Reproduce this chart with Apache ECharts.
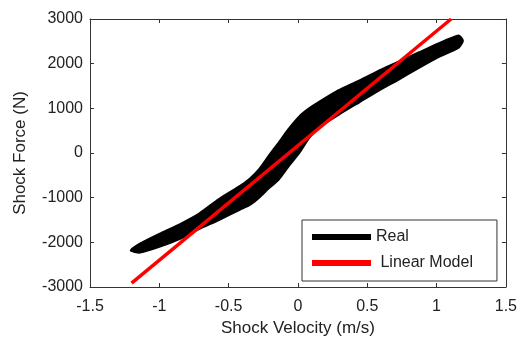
<!DOCTYPE html>
<html><head><meta charset="utf-8">
<script src="https://cdn.jsdelivr.net/npm/echarts@6/dist/echarts.min.js"></script>
<style>html,body{margin:0;padding:0;background:#fff}#c{width:520px;height:342px}</style>
</head><body><div id="c"></div>
<script>
// Real (measured) shock force band: upper and lower envelopes at each velocity
const velocity   = [-1.14, -1.0, -0.85, -0.71, -0.57, -0.42, -0.35, -0.28, -0.21, -0.14, -0.07, 0.01, 0.08, 0.15, 0.29, 0.44, 0.58, 0.73, 0.87, 1.01, 1.16];
const forceUpper = [-2030, -1810, -1590, -1350, -1030, -740, -580, -360, -60, 230, 530, 820, 1000, 1140, 1400, 1620, 1840, 2050, 2250, 2450, 2630];
const forceLower = [-2230, -2100, -1920, -1700, -1500, -1270, -1170, -1000, -790, -600, -310, 0, 330, 570, 850, 1130, 1390, 1650, 1900, 2140, 2360];
const tipLeft  = [-1.206, -2184];
const tipRight = [1.19, 2515];
// Linear model
const linearVelocity = [-1.2, 1.105];
const linearForce    = [-2914, 3000];
const seriesNames = ['Real', 'Linear Model'];

const FONT = 'Liberation Sans, Arial, sans-serif';
const axisColor = '#333';
const textColor = '#222';

const chart = echarts.init(document.getElementById('c'), null, {renderer: 'canvas'});

function xAx(pos, showLabel) {
  return {
    type: 'value', position: pos, min: -1.5, max: 1.5, interval: 0.5,
    axisLine: {onZero: false, lineStyle: {color: axisColor, width: 1}},
    axisTick: {inside: true, length: 4, lineStyle: {color: axisColor}},
    splitLine: {show: false},
    axisLabel: {show: showLabel, fontSize: 16, color: textColor, margin: 12, fontFamily: FONT},
    name: showLabel ? 'Shock Velocity (m/s)' : '',
    nameLocation: 'middle', nameGap: 33,
    nameTextStyle: {fontSize: 17, color: textColor, fontFamily: FONT}
  };
}
function yAx(pos, showLabel) {
  return {
    type: 'value', position: pos, min: -3000, max: 3000, interval: 1000,
    axisLine: {onZero: false, lineStyle: {color: axisColor, width: 1}},
    axisTick: {inside: true, length: 4, lineStyle: {color: axisColor}},
    splitLine: {show: false},
    axisLabel: {show: showLabel, fontSize: 16, color: textColor, margin: 7, fontFamily: FONT,
      formatter: v => String(v)},
    name: showLabel ? 'Shock Force (N)' : '',
    nameLocation: 'middle', nameGap: 61,
    nameTextStyle: {fontSize: 17, color: textColor, fontFamily: FONT}
  };
}

chart.setOption({
  animation: false,
  backgroundColor: '#fff',
  grid: {left: 90, right: 12, top: 19, bottom: 51},
  xAxis: [xAx('bottom', true), xAx('top', false)],
  yAxis: [yAx('left', true), yAx('right', false)],
  legend: {
    orient: 'vertical', left: 302, top: 220,
    padding: [9, 24, 10, 10], itemGap: 10, itemWidth: 59, itemHeight: 6, icon: 'rect',
    backgroundColor: '#fff', borderColor: '#333', borderWidth: 1, borderRadius: 0,
    textStyle: {fontFamily: FONT, fontSize: 16, color: textColor},
    data: seriesNames,
    formatter: n => n === 'Linear Model' ? ' ' + n : n
  },
  series: [
    {
      name: seriesNames[0], type: 'custom', coordinateSystem: 'cartesian2d',
      xAxisIndex: 0, yAxisIndex: 0,
      itemStyle: {color: '#000'},
      data: [[0, 0]],
      renderItem: function (params, api) {
        const pts = [api.coord(tipLeft)];
        for (let i = 0; i < velocity.length; i++) pts.push(api.coord([velocity[i], forceUpper[i]]));
        pts.push(api.coord(tipRight));
        for (let i = velocity.length - 1; i >= 0; i--) pts.push(api.coord([velocity[i], forceLower[i]]));
        return {
          type: 'polygon',
          shape: {points: pts, smooth: 0.2},
          style: {fill: '#000', stroke: '#000', lineWidth: 2, lineJoin: 'round'}
        };
      }
    },
    {
      name: seriesNames[1], type: 'line', xAxisIndex: 0, yAxisIndex: 0,
      data: linearVelocity.map((v, i) => [v, linearForce[i]]),
      symbol: 'none', showSymbol: false, clip: true,
      itemStyle: {color: '#ff0000'},
      lineStyle: {color: '#ff0000', width: 3.5},
      z: 3
    }
  ]
});
</script></body></html>
